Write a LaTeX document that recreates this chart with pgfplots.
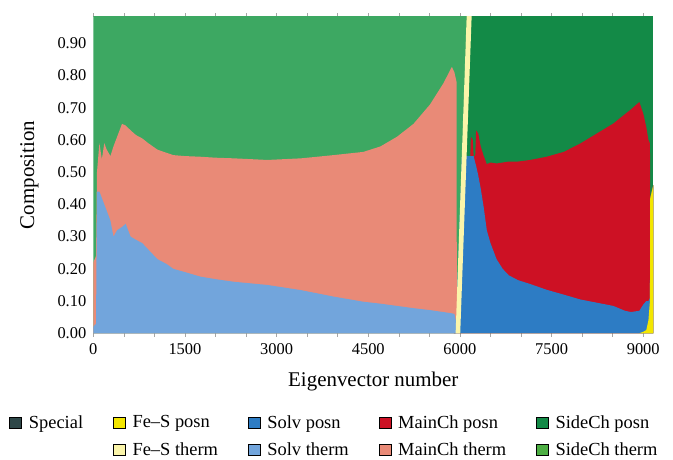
\documentclass[border=0pt]{standalone}
\usepackage{fontspec}
\setmainfont{Liberation Serif}
\usepackage{pgfplots}
\usepackage{pgfplotstable}
\pgfplotsset{compat=1.18}
\definecolor{sidet}{HTML}{3DA862}
\definecolor{sidetleg}{HTML}{4DAE43}
\definecolor{sidep}{HTML}{138A47}
\definecolor{mainp}{HTML}{CD1124}
\definecolor{maint}{HTML}{E98A77}
\definecolor{solvp}{HTML}{2D7CC4}
\definecolor{solvt}{HTML}{72A5DC}
\definecolor{fesp}{HTML}{F3E600}
\definecolor{fest}{HTML}{FBF5AA}
\definecolor{special}{HTML}{2E4748}

% thermal part: cumulative tops of Solv therm (B) and MainCh therm (M)
\pgfplotstableread{
x     B     M
0     0.02  0.22
45    0.03  0.24
60    0.44  0.50
100   0.44  0.59
140   0.42  0.54
180   0.40  0.59
220   0.38  0.57
280   0.35  0.55
330   0.30  0.58
390   0.32  0.61
470   0.33  0.65
530   0.34  0.645
610   0.30  0.63
700   0.29  0.615
800   0.28  0.605
900   0.26  0.59
1050  0.23  0.57
1200  0.215 0.56
1310  0.20  0.553
1500  0.19  0.55
1750  0.176 0.548
2000  0.168 0.545
2300  0.16  0.543
2850  0.15  0.538
3400  0.134 0.543
3930  0.114 0.553
4420  0.098 0.563
4700  0.092 0.58
4970  0.085 0.61
5240  0.078 0.65
5510  0.072 0.71
5730  0.066 0.776
5868  0.062 0.827
5910  0.06  0.81
5945  0.03  0.78
5950  0.0   0.0
}\thermdata

% positional part: cumulative tops of Fe-S posn (F), Solv posn (S), MainCh posn (M)
\pgfplotstableread{
x     F     S     M
5900  0     0.55  0.55
6170  0     0.55  0.55
6180  0     0.55  0.61
6210  0     0.55  0.60
6225  0     0.55  0.55
6250  0     0.53  0.55
6265  0     0.52  0.63
6300  0     0.49  0.62
6340  0     0.45  0.58
6390  0     0.39  0.55
6440  0     0.32  0.525
6500  0     0.28  0.53
6600  0     0.23  0.527
6700  0     0.20  0.53
6800  0     0.18  0.533
6950  0     0.165 0.533
7150  0     0.153 0.538
7420  0     0.135 0.548
7700  0     0.12  0.563
7970  0     0.105 0.589
8240  0     0.095 0.62
8510  0     0.085 0.651
8700  0     0.07  0.68
8800  0     0.066 0.695
8937  0     0.07  0.718
9003  0.005 0.09  0.68
9050  0.01  0.10  0.64
9085  0.04  0.10  0.60
9110  0.10  0.11  0.59
9115  0.42  0.42  0.42
9165  0.46  0.46  0.46
}\posndata

\begin{document}
\begin{tikzpicture}
\begin{axis}[
  scale only axis,
  width=560bp, height=316.6bp,
  xmin=0, xmax=9165, ymin=0, ymax=0.9826,
  xtick={0,1500,3000,4500,6000,7500,9000},
  minor x tick num=2,
  ytick={0,0.1,0.2,0.3,0.4,0.5,0.6,0.7,0.8,0.9},
  tick align=outside,
  xtick pos=both,
  major tick length=3.5bp, minor tick length=3.5bp,
  x tick style={gray!70, line width=0.5pt},
  ytick style={draw=none},
  axis line style={draw=none},
  /pgf/number format/assume math mode=true,
  xticklabel style={/pgf/number format/set thousands separator={}, yshift=-3bp},
  yticklabel style={/pgf/number format/.cd, fixed, fixed zerofill, precision=2},
  tick label style={font=\fontsize{16.5}{19}\selectfont},
  label style={font=\fontsize{21}{25}\selectfont},
  xlabel={Eigenvector number},
  xlabel style={yshift=-11bp},
  ylabel={Composition},
  ylabel style={yshift=12bp},
  legend columns=5,
  legend cell align=left,
  legend image code/.code={\fill[#1] (0bp,-5.5bp) rectangle (12bp,5.5bp); \path (17bp,0bp);},
  legend style={
    at={(0,0)}, anchor=north west, xshift=-84bp, yshift=-80bp,
    draw=none, fill=none, inner sep=0pt,
    font=\fontsize{18.5}{21}\selectfont,
    row sep=9bp,
    /tikz/every even column/.append style={column sep=28bp},
  },
]
% positional modes (right part)
\addplot[draw=none, fill=sidep, forget plot] coordinates {(5900,1) (9165,1)} \closedcycle;
\addplot[draw=none, fill=mainp, forget plot] table[x=x, y=M] {\posndata} \closedcycle;
\addplot[draw=none, fill=solvp, forget plot] table[x=x, y=S] {\posndata} \closedcycle;
\addplot[draw=none, fill=fesp, forget plot] table[x=x, y=F] {\posndata} \closedcycle;
% thermal modes (left part)
\addplot[draw=none, fill=sidet, forget plot] coordinates {(0,1) (6113,1) (5930,0)} \closedcycle;
\addplot[draw=none, fill=maint, forget plot] table[x=x, y=M] {\thermdata} \closedcycle;
\addplot[draw=none, fill=solvt, forget plot] table[x=x, y=B] {\thermdata} \closedcycle;
% Fe-S therm stripe
\addplot[draw=none, fill=fest, forget plot] coordinates {(5930,0) (6113,1) (6195,1) (6005,0)} \closedcycle;

\addlegendimage{fill=special}\addlegendentry{Special}
\addlegendimage{fill=fesp}\addlegendentry{Fe--S posn}
\addlegendimage{fill=solvp}\addlegendentry{Solv posn}
\addlegendimage{fill=mainp}\addlegendentry{MainCh posn}
\addlegendimage{fill=sidep}\addlegendentry{SideCh posn}
\addlegendimage{empty legend}\addlegendentry{}
\addlegendimage{fill=fest}\addlegendentry{Fe--S therm}
\addlegendimage{fill=solvt}\addlegendentry{Solv therm}
\addlegendimage{fill=maint}\addlegendentry{MainCh therm}
\addlegendimage{fill=sidetleg}\addlegendentry{SideCh therm}
\end{axis}
\path[use as bounding box] (-93.3bp,-122.7bp) rectangle (579.7bp,333.3bp);
\end{tikzpicture}
\end{document}
